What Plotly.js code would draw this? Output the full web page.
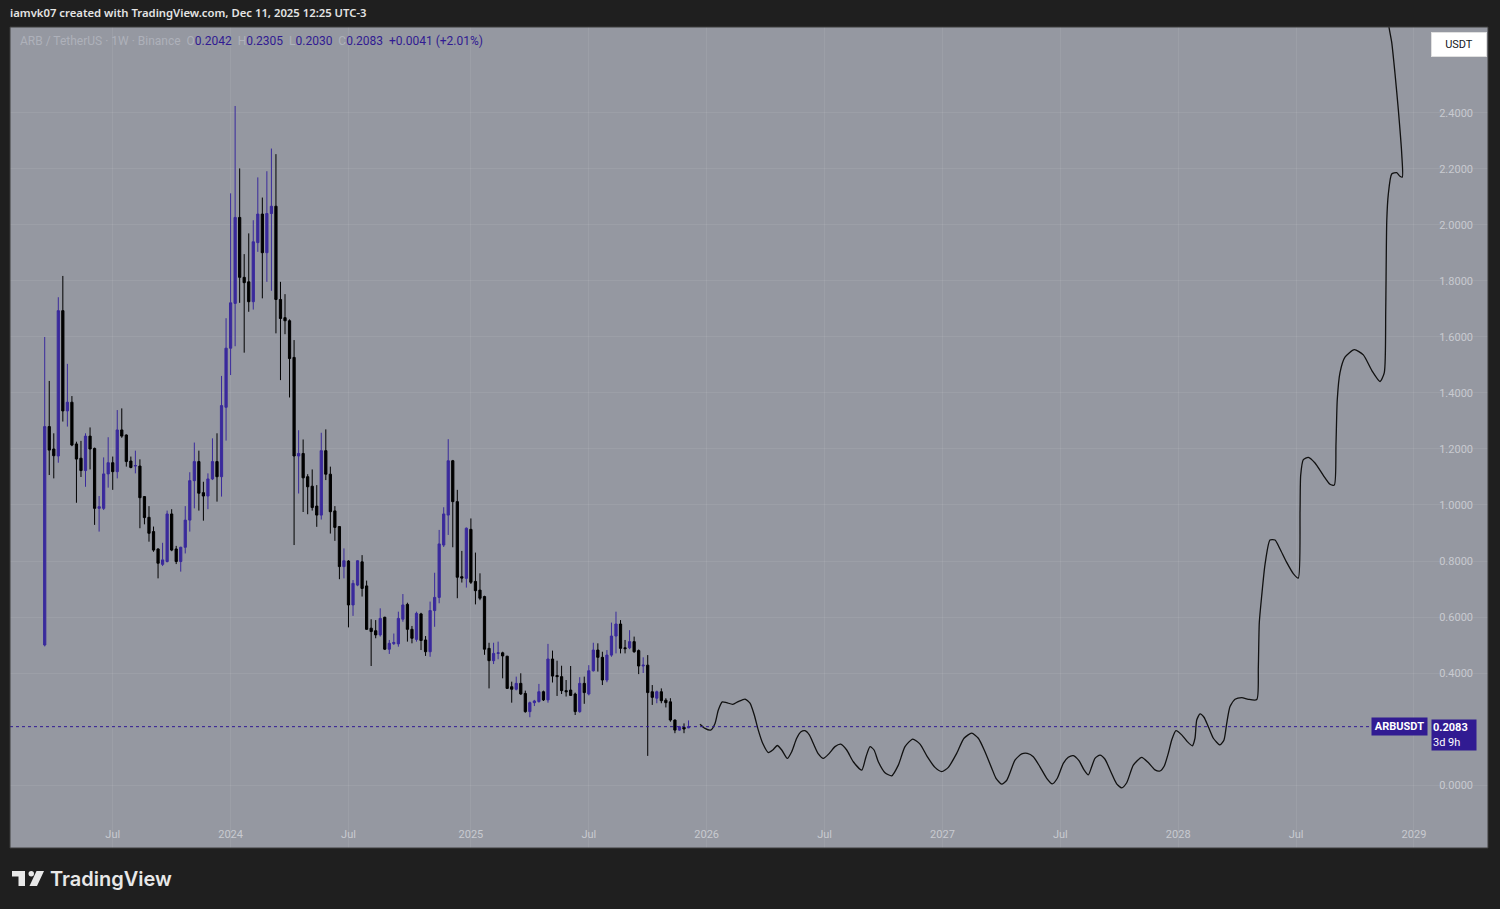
<!DOCTYPE html>
<html><head><meta charset="utf-8">
<script src="https://cdn.plot.ly/plotly-3.0.1.min.js"></script>
<style>html,body{margin:0;padding:0;background:#1f1f1f;overflow:hidden}#chart{width:1500px;height:909px}</style>
</head><body><div id="chart"></div>
<script>
// ---- DATA ----
const firstWeek = '2023-03-20'; // weekly candles, one per entry below
const opens = [0.50,1.28,1.20,1.175,1.694,1.336,1.367,1.218,1.167,1.123,1.246,1.202,0.988,0.988,1.111,1.151,1.119,1.268,1.25,1.157,1.139,1.139,1.03,0.956,0.905,0.843,0.788,0.798,0.968,0.843,0.798,0.849,0.946,1.087,1.155,1.044,1.032,1.093,1.155,1.101,1.349,1.56,1.72,2.027,1.813,1.797,1.726,1.937,2.039,1.901,2.041,2.067,1.734,1.669,1.658,1.527,1.175,1.184,1.101,1.067,0.996,0.964,1.194,1.11,0.979,0.923,0.78,0.80,0.643,0.714,0.797,0.711,0.56,0.551,0.536,0.599,0.485,0.505,0.504,0.592,0.645,0.556,0.52,0.611,0.518,0.476,0.623,0.67,0.857,0.964,1.158,1.012,0.744,0.738,0.913,0.727,0.696,0.673,0.488,0.444,0.47,0.472,0.46,0.351,0.342,0.363,0.327,0.262,0.294,0.298,0.333,0.304,0.45,0.391,0.387,0.337,0.339,0.325,0.262,0.363,0.325,0.408,0.482,0.456,0.375,0.464,0.532,0.575,0.49,0.49,0.512,0.48,0.425,0.428,0.333,0.31,0.333,0.303,0.297,0.232,0.196,0.206,0.2042];
const highs = [1.60,1.443,1.256,1.742,1.818,1.504,1.389,1.226,1.229,1.256,1.277,1.205,1.032,1.17,1.242,1.173,1.339,1.345,1.252,1.173,1.194,1.163,1.032,0.996,0.923,0.845,0.865,0.98,0.985,0.854,0.851,0.996,1.117,1.223,1.194,1.083,1.113,1.238,1.256,1.461,1.667,2.113,2.425,2.202,1.896,1.97,2.017,2.17,2.098,2.192,2.273,2.253,1.797,1.753,1.663,1.589,1.267,1.234,1.11,1.127,1.071,1.258,1.27,1.137,0.996,0.925,0.845,0.803,0.732,0.803,0.821,0.73,0.592,0.589,0.631,0.601,0.518,0.541,0.619,0.682,0.651,0.568,0.619,0.615,0.532,0.655,0.758,0.911,0.992,1.235,1.161,1.054,0.836,0.92,0.952,0.83,0.756,0.676,0.508,0.508,0.512,0.476,0.461,0.369,0.387,0.399,0.337,0.298,0.304,0.361,0.337,0.504,0.48,0.444,0.426,0.375,0.425,0.33,0.385,0.387,0.428,0.508,0.506,0.476,0.482,0.58,0.619,0.589,0.518,0.553,0.53,0.484,0.456,0.464,0.357,0.337,0.345,0.31,0.31,0.234,0.211,0.22,0.2305];
const lows = [0.495,1.107,1.095,1.151,1.298,1.28,1.21,1.008,1.10,1.065,1.127,0.929,0.905,0.982,1.062,1.054,1.095,1.24,1.137,1.131,1.113,0.917,0.931,0.869,0.833,0.738,0.782,0.795,0.835,0.789,0.762,0.827,0.905,0.988,0.98,0.944,0.985,1.089,1.012,1.03,1.23,1.464,1.567,1.722,1.544,1.69,1.698,1.904,1.738,1.797,1.765,1.613,1.446,1.61,1.384,0.857,1.041,0.975,0.967,0.98,0.922,0.948,1.089,0.898,0.872,0.735,0.738,0.563,0.604,0.71,0.673,0.554,0.425,0.524,0.53,0.482,0.468,0.50,0.494,0.583,0.512,0.506,0.512,0.482,0.461,0.458,0.565,0.649,0.85,0.893,0.849,0.667,0.723,0.705,0.718,0.645,0.66,0.465,0.345,0.432,0.449,0.381,0.344,0.294,0.338,0.322,0.258,0.242,0.282,0.294,0.300,0.294,0.366,0.318,0.325,0.316,0.318,0.25,0.258,0.29,0.32,0.405,0.405,0.357,0.367,0.458,0.47,0.47,0.47,0.485,0.472,0.396,0.40,0.104,0.286,0.292,0.292,0.277,0.226,0.185,0.194,0.185,0.2030];
const closes = [1.28,1.196,1.176,1.694,1.336,1.367,1.214,1.164,1.123,1.246,1.20,0.988,0.994,1.111,1.151,1.119,1.268,1.246,1.155,1.134,1.141,1.026,0.955,0.899,0.839,0.792,0.804,0.968,0.839,0.798,0.849,0.946,1.087,1.155,1.042,1.032,1.093,1.155,1.101,1.355,1.56,1.722,2.027,1.813,1.794,1.726,1.94,2.039,1.901,2.041,2.067,1.734,1.666,1.658,1.523,1.175,1.184,1.097,1.065,0.991,0.964,1.194,1.11,0.976,0.92,0.78,0.801,0.643,0.72,0.801,0.702,0.556,0.548,0.536,0.595,0.485,0.506,0.509,0.595,0.643,0.556,0.524,0.613,0.516,0.476,0.623,0.67,0.861,0.968,1.158,1.012,0.742,0.739,0.917,0.724,0.694,0.667,0.485,0.444,0.47,0.472,0.461,0.345,0.342,0.363,0.325,0.262,0.294,0.30,0.333,0.304,0.45,0.389,0.387,0.337,0.333,0.32,0.262,0.363,0.33,0.408,0.482,0.456,0.375,0.464,0.532,0.575,0.488,0.487,0.512,0.476,0.425,0.428,0.33,0.313,0.333,0.301,0.294,0.232,0.196,0.208,0.20,0.2083];

// projection drawing: days after 2024-01-01, price
const projDays = [724.7,732.4,741.2,747.9,753.0,759.1,765.9,775.2,783.8,794.2,801.9,808.5,814.7,821.5,830.1,837.0,844.0,850.9,859.5,866.3,874.0,880.6,886.8,893.5,900.7,907.4,915.1,924.3,933.1,941.9,951.2,961.4,974.4,981.0,987.2,993.4,1000.0,1010.3,1020.7,1030.9,1041.2,1053.1,1064.4,1075.6,1087.5,1097.9,1108.1,1121.0,1132.3,1144.2,1154.4,1164.7,1175.1,1181.7,1190.5,1198.0,1203.0,1211.0,1221.4,1230.0,1239.3,1249.6,1260.0,1268.6,1276.4,1285.6,1293.3,1301.1,1309.8,1317.6,1324.2,1329.4,1334.5,1342.3,1350.0,1358.8,1368.0,1375.8,1383.5,1393.7,1406.6,1416.8,1427.2,1434.9,1441.5,1447.7,1453.0,1459.6,1468.4,1477.0,1484.8,1488.9,1491.6,1496.7,1502.8,1509.5,1517.2,1527.5,1533.7,1537.9,1543.0,1550.7,1561.1,1571.3,1584.3,1586.7,1588.2,1591.9,1597.0,1604.7,1612.5,1620.2,1630.5,1640.7,1648.4,1651.1,1652.1,1656.2,1663.9,1674.2,1687.0,1697.4,1704.0,1706.6,1708.6,1712.8,1720.5,1734.9,1748.8,1761.8,1774.6,1781.2,1783.4,1785.0,1787.4,1792.6,1800.3,1805.4,1809.0,1808.1,1802.8,1797.7,1792.6,1788.4,1786.9];
const projValues = [0.217,0.202,0.196,0.220,0.268,0.297,0.294,0.288,0.298,0.307,0.292,0.250,0.196,0.149,0.116,0.125,0.141,0.125,0.095,0.119,0.167,0.190,0.194,0.179,0.143,0.111,0.095,0.113,0.137,0.146,0.125,0.083,0.053,0.101,0.137,0.125,0.083,0.044,0.033,0.071,0.137,0.164,0.146,0.101,0.063,0.048,0.063,0.113,0.167,0.185,0.167,0.119,0.060,0.024,0.003,0.016,0.042,0.089,0.111,0.113,0.101,0.065,0.024,0.004,0.024,0.077,0.099,0.105,0.087,0.054,0.036,0.065,0.095,0.107,0.092,0.048,0.004,-0.010,0.008,0.071,0.099,0.080,0.054,0.050,0.068,0.113,0.161,0.194,0.179,0.155,0.140,0.167,0.232,0.254,0.242,0.208,0.167,0.143,0.161,0.220,0.280,0.306,0.312,0.306,0.305,0.420,0.580,0.675,0.787,0.875,0.875,0.843,0.795,0.755,0.739,0.979,1.106,1.162,1.170,1.150,1.106,1.074,1.071,1.218,1.377,1.473,1.528,1.555,1.536,1.481,1.441,1.473,1.696,2.015,2.110,2.182,2.187,2.174,2.171,2.254,2.413,2.541,2.653,2.708,2.780];

const xTickVals = ['2023-07-03','2024-01-01','2024-07-01','2025-01-06','2025-07-07','2026-01-05','2026-07-06','2027-01-04','2027-07-05','2028-01-03','2028-07-03','2029-01-01'];
const xTickText = ['Jul','2024','Jul','2025','Jul','2026','Jul','2027','Jul','2028','Jul','2029'];
// 0.2000 and 2.6000 sit under the price / currency labels in the reference
const yTickVals = [0,0.4,0.6,0.8,1.0,1.2,1.4,1.6,1.8,2.0,2.2,2.4];
const symbolText = 'ARB / TetherUS · 1W · Binance';
const changeText = '+0.0041 (+2.01%)';
const countdownText = '3d 9h';

// ---- BUILD ----
const DAY = 86400000;
const fmt = ms => new Date(ms).toISOString().replace('T',' ').slice(0,19);
const w0 = Date.parse(firstWeek + 'T00:00:00Z');
const weeks = opens.map((_, i) => fmt(w0 + i*7*DAY));
const base = Date.parse('2024-01-01T00:00:00Z');
const projX = projDays.map(d => fmt(base + d*DAY));
const last = opens.length - 1;
const lastClose = closes[last];

const UP = '#3a2a9c', DOWN = '#000000', LABEL = '#311b92';
const L=10, R=12, T=27, B=61, W=1500, H=909;
const pw = W-L-R, ph = H-T-B;
const px = x => (x-L)/pw, py = y => (H-B-y)/ph;

const traces = [
  {type:'candlestick', x:weeks, open:opens, high:highs, low:lows, close:closes,
   increasing:{line:{color:UP,width:1},fillcolor:UP},
   decreasing:{line:{color:DOWN,width:1},fillcolor:DOWN},
   whiskerwidth:0, hoverinfo:'skip'},
  {type:'scatter', mode:'lines', x:projX, y:projValues,
   line:{color:'#111111', width:1.3, shape:'spline', smoothing:0.6}, hoverinfo:'skip'}
];

const v4 = v => v.toFixed(4);
const legendHtml = '<span style="color:#aeb1ba">'+symbolText+'  O</span><span style="color:'+LABEL+'">'+v4(opens[last])+'</span>'+
  '<span style="color:#aeb1ba">  H</span><span style="color:'+LABEL+'">'+v4(highs[last])+'</span>'+
  '<span style="color:#aeb1ba">  L</span><span style="color:'+LABEL+'">'+v4(lows[last])+'</span>'+
  '<span style="color:#aeb1ba">  C</span><span style="color:'+LABEL+'">'+v4(closes[last])+'</span>'+
  '<span style="color:'+LABEL+'">  '+changeText+'</span>';

const logoColor = '#e8e8e8';
const layout = {
  width:W, height:H, paper_bgcolor:'#1f1f1f', plot_bgcolor:'#9598a1',
  margin:{l:L,r:R,t:T,b:B,pad:0}, showlegend:false, hovermode:false, dragmode:false,
  title:{text:'iamvk07 created with TradingView.com, Dec 11, 2025 12:25 UTC-3',
    x:10/W, xref:'container', xanchor:'left', y:1-13/H, yref:'container', yanchor:'middle',
    font:{family:'Noto Sans, sans-serif', size:11.3, color:'#e4e4e4', weight:600}},
  xaxis:{type:'date', range:['2023-01-25 10:00:00','2029-04-25 07:00:00'], tickmode:'array',
    tickvals:xTickVals, ticktext:xTickText, ticklabelposition:'inside', ticklabelstandoff:5, ticks:'',
    showgrid:true, gridcolor:'rgba(255,255,255,0.07)', gridwidth:1, zeroline:false, showline:false,
    rangeslider:{visible:false}, fixedrange:true,
    tickfont:{family:'Roboto, sans-serif', size:11, color:'#c8cad0'}},
  yaxis:{side:'right', range:[-0.225,2.7071], tickmode:'array', tickvals:yTickVals, tickformat:'.4f',
    ticklabelposition:'inside', ticklabelstandoff:12, ticks:'',
    showgrid:true, gridcolor:'rgba(255,255,255,0.07)', gridwidth:1, zeroline:false, showline:false, fixedrange:true,
    tickfont:{family:'Roboto, sans-serif', size:11, color:'#c8cad0'}},
  shapes:[
    {type:'line', xref:'paper', yref:'y', x0:0, x1:px(1371), y0:lastClose, y1:lastClose,
     line:{color:LABEL, width:1, dash:'dot'}},
    {type:'rect', xref:'paper', yref:'paper', x0:0, x1:1, y0:0, y1:1, line:{color:'#3d3d3d', width:1}},
    // TradingView logo glyph
    {type:'path', xref:'paper', yref:'paper', fillcolor:logoColor, line:{width:0},
     path:'M'+px(12)+','+py(871)+' L'+px(25)+','+py(871)+' L'+px(25)+','+py(886)+' L'+px(18.5)+','+py(886)+' L'+px(18.5)+','+py(876.5)+' L'+px(12)+','+py(876.5)+' Z'},
    {type:'circle', xref:'paper', yref:'paper', fillcolor:logoColor, line:{width:0},
     x0:px(28.5), x1:px(34), y0:py(876.5), y1:py(871)},
    {type:'path', xref:'paper', yref:'paper', fillcolor:logoColor, line:{width:0},
     path:'M'+px(36.5)+','+py(871)+' L'+px(44)+','+py(871)+' L'+px(37)+','+py(886)+' L'+px(29.5)+','+py(886)+' Z'}
  ],
  annotations:[
    {xref:'paper', yref:'paper', x:px(18), y:py(41), xanchor:'left', yanchor:'middle', showarrow:false,
     text:legendHtml, font:{family:'Roboto, sans-serif', size:12}},
    {xref:'paper', yref:'paper', x:px(1459), y:py(44.5), xanchor:'center', yanchor:'middle', showarrow:false,
     text:'USDT', bgcolor:'#ffffff', bordercolor:'#e0e0e0', borderwidth:1, width:50, height:19, borderpad:2,
     font:{family:'Roboto, sans-serif', size:11, color:'#131722'}},
    {xref:'paper', yref:'y', x:px(1399.5), y:lastClose, xanchor:'center', yanchor:'middle', showarrow:false,
     text:'<b>ARBUSDT</b>', bgcolor:LABEL, width:53, height:15, borderpad:1,
     font:{family:'Roboto, sans-serif', size:11, color:'#ffffff'}},
    {xref:'paper', yref:'y', x:px(1453.5), y:lastClose, xanchor:'center', yanchor:'top', yshift:8, showarrow:false,
     text:'<b>'+v4(lastClose)+'</b><br>'+countdownText, align:'left', bgcolor:LABEL, width:42, height:28, borderpad:1,
     font:{family:'Roboto, sans-serif', size:11, color:'#ffffff'}},
    {xref:'paper', yref:'paper', x:px(48), y:py(879), xanchor:'left', yanchor:'middle', showarrow:false,
     text:'TradingView', font:{family:'Inter, sans-serif', size:20, color:logoColor, weight:600}}
  ]
};

Plotly.newPlot('chart', traces, layout, {displayModeBar:false, staticPlot:true});
</script>
</body></html>
